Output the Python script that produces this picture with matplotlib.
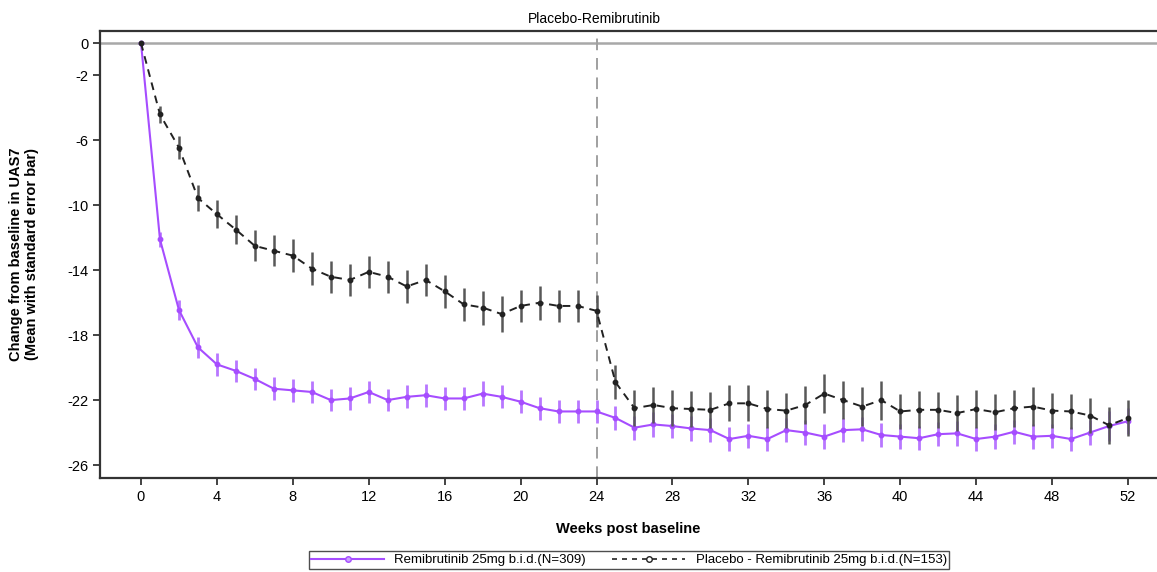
import matplotlib.pyplot as plt
from matplotlib.lines import Line2D

plt.rcParams['font.family'] = ['Liberation Sans', 'DejaVu Sans']
plt.rcParams['axes.unicode_minus'] = False

weeks = list(range(53))

remi_mean = [0, -12.1, -16.45, -18.75, -19.8, -20.2, -20.7, -21.3, -21.4, -21.5,
             -22.0, -21.9, -21.5, -22.0, -21.8, -21.7, -21.9, -21.9, -21.6, -21.8,
             -22.1, -22.5, -22.7, -22.7, -22.7, -23.1, -23.7, -23.5, -23.6, -23.75,
             -23.85, -24.4, -24.2, -24.4, -23.85, -24.0, -24.25, -23.85, -23.8, -24.15,
             -24.25, -24.35, -24.1, -24.05, -24.4, -24.25, -23.95, -24.25, -24.2, -24.4,
             -24.0, -23.6, -23.3]
remi_se = [0, 0.45, 0.6, 0.65, 0.7, 0.7, 0.7, 0.7, 0.7, 0.7,
           0.7, 0.7, 0.7, 0.7, 0.7, 0.7, 0.7, 0.7, 0.75, 0.7,
           0.7, 0.7, 0.7, 0.7, 0.7, 0.75, 0.75, 0.75, 0.75, 0.75,
           0.75, 0.75, 0.75, 0.75, 0.75, 0.75, 0.75, 0.75, 0.75, 0.75,
           0.75, 0.75, 0.75, 0.75, 0.75, 0.75, 0.75, 0.75, 0.75, 0.75,
           0.75, 0.9, 0.8]

placebo_mean = [0, -4.4, -6.45, -9.55, -10.55, -11.5, -12.5, -12.8, -13.1, -13.9,
                -14.4, -14.6, -14.1, -14.4, -15.0, -14.6, -15.3, -16.1, -16.3, -16.7,
                -16.2, -16.0, -16.2, -16.2, -16.5, -20.9, -22.5, -22.3, -22.5, -22.55,
                -22.6, -22.2, -22.2, -22.55, -22.65, -22.3, -21.6, -22.0, -22.4, -22.0,
                -22.7, -22.6, -22.6, -22.8, -22.55, -22.75, -22.5, -22.4, -22.65, -22.7,
                -22.95, -23.55, -23.1]
placebo_se = [0, 0.55, 0.7, 0.8, 0.85, 0.9, 0.95, 0.95, 1.0, 1.0,
              1.0, 1.0, 1.0, 1.0, 1.0, 1.0, 1.0, 1.0, 1.05, 1.1,
              1.0, 1.05, 1.0, 1.0, 1.0, 1.05, 1.1, 1.1, 1.1, 1.1,
              1.1, 1.1, 1.1, 1.15, 1.1, 1.15, 1.2, 1.15, 1.2, 1.2,
              1.1, 1.15, 1.1, 1.1, 1.15, 1.1, 1.15, 1.2, 1.1, 1.1,
              1.05, 1.15, 1.1]

x_ticks = list(range(0, 53, 4))
y_ticks = [0, -2, -6, -10, -14, -18, -22, -26]

remi_label = "Remibrutinib 25mg b.i.d.(N=309)"
placebo_label = "Placebo - Remibrutinib 25mg b.i.d.(N=153)"

purple = '#A64DFF'
purple_bar = '#B877FF'
dark = '#222222'

fig = plt.figure(figsize=(11.57, 5.72), dpi=100)
ax = fig.add_axes([100 / 1157, 94 / 572, 1057 / 1157, 447 / 572])

# reference lines
ax.axhline(0, color='#A8A8A8', lw=1.8, zorder=1)
ax.axvline(24, color='#A0A0A0', lw=1.4, ls=(0, (6, 4)), zorder=1)

# remibrutinib
ax.errorbar(weeks, remi_mean, yerr=remi_se, fmt='none', ecolor=purple_bar,
            elinewidth=2, capsize=0, zorder=2)
ax.plot(weeks, remi_mean, color=purple, lw=1.5, marker='o', ms=3.2, zorder=3)

# placebo -> remibrutinib
ax.errorbar(weeks, placebo_mean, yerr=placebo_se, fmt='none', ecolor='#585858',
            elinewidth=1.8, capsize=0, zorder=4)
ax.plot(weeks, placebo_mean, color=dark, lw=1.4, ls=(0, (4, 3)), marker='o',
        ms=3.2, zorder=5)

ax.set_xlim(-2.16, 53.53)
ax.set_ylim(-26.8, 0.74)
ax.set_xticks(x_ticks)
ax.set_yticks(y_ticks)
ax.tick_params(labelsize=10.5, width=1.2, length=5, color='#222222')
ax.spines['right'].set_visible(False)
for s in ['left', 'bottom', 'top']:
    ax.spines[s].set_linewidth(1.6)
    ax.spines[s].set_color('#333333')

ax.set_xlabel("Weeks post baseline", fontsize=10.5, fontweight='bold', labelpad=13)
ax.set_ylabel("Change from baseline in UAS7\n(Mean with standard error bar)",
              fontsize=10.5, fontweight='bold', labelpad=20)
ax.set_title("Placebo-Remibrutinib", fontsize=10, x=0.468, pad=6)

handles = [
    Line2D([], [], color=purple, lw=1.5, marker='o', ms=4, mfc='#C9A0FF'),
    Line2D([], [], color=dark, lw=1.2, ls=(0, (3, 3)), marker='o', ms=4, mfc='white'),
]
leg = fig.legend(handles, [remi_label, placebo_label], loc='lower center',
                 bbox_to_anchor=(629 / 1157, -0.006), ncol=2, fontsize=9.5,
                 frameon=True, fancybox=False, edgecolor='#222222',
                 handlelength=5.5, columnspacing=2.0, borderpad=0.2,
                 handletextpad=0.8)
leg.get_frame().set_linewidth(1.0)

fig.savefig('out.png', dpi=100)
